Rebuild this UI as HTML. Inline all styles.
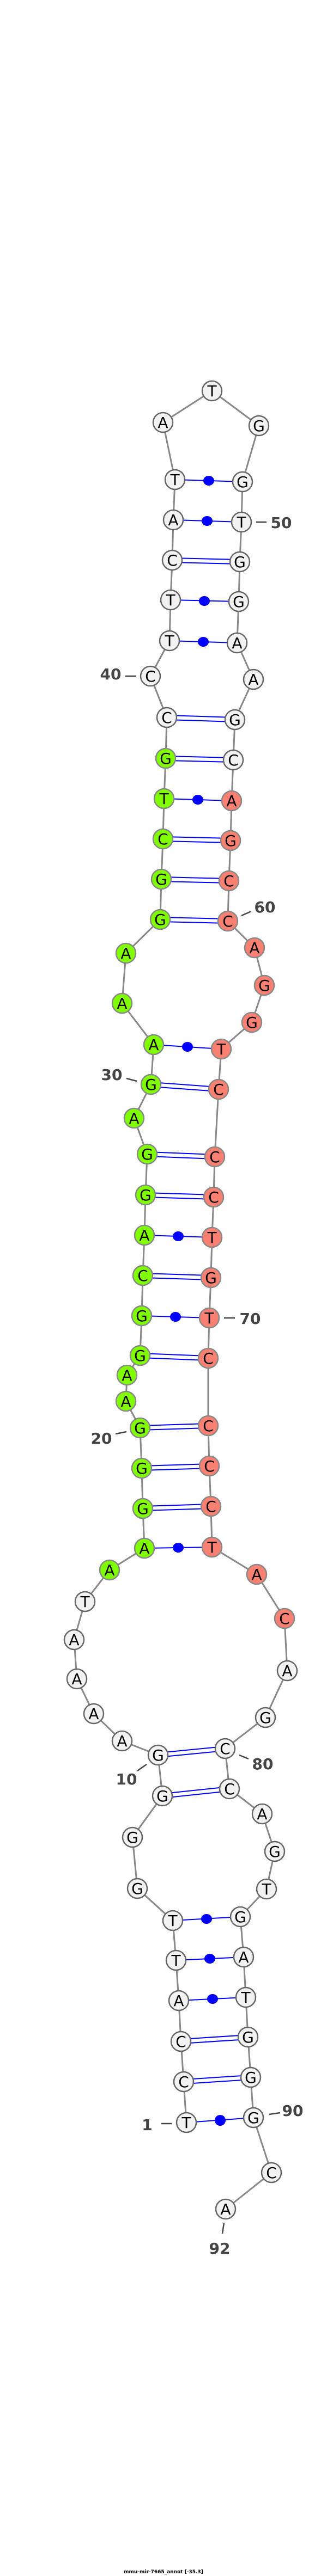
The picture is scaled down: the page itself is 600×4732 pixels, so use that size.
<!DOCTYPE html>
<html><head><meta charset="utf-8"><style>html,body{margin:0;padding:0;background:#fff}svg{display:block}</style></head><body>
<svg width="600" height="4732" viewBox="0 0 600 4732" xmlns="http://www.w3.org/2000/svg">
<polyline fill="none" stroke="#888" stroke-width="3" points="342,3899 337,3824 332,3750 328,3675 323,3601 317,3528 252,3469 243,3375 298,3299 290,3224 224,3198 172,3148 141,3084 136,3012 156,2942 201,2884 265,2844 262,2771 260,2697 257,2623 231,2574 233,2526 257,2490 260,2417 262,2343 265,2269 267,2195 270,2120 246,2054 277,1992 282,1919 224,1843 231,1751 294,1689 296,1615 299,1541 301,1467 304,1393 306,1318 276,1242 311,1177 313,1102 316,1029 318,955 321,881 299,776 389,718 475,782 445,885 443,959 440,1032 438,1105 435,1181 465,1248 431,1322 428,1396 425,1471 423,1544 420,1618 418,1692 467,1741 485,1810 462,1878 406,1927 401,2001 394,2125 392,2199 389,2273 387,2347 384,2421 382,2495 382,2619 384,2693 387,2767 389,2842 471,2892 522,2973 527,3069 487,3155 413,3212 421,3286 481,3332 504,3401 489,3470 441,3521 447,3595 451,3669 455,3742 460,3816 465,3890 498,3991 414,4058"/>
<g stroke="#00f" stroke-width="2">
<!-- single pairs -->
<line x1="342" y1="3899" x2="465" y2="3890"/>
<line x1="328" y1="3675" x2="451" y2="3669"/>
<line x1="323" y1="3601" x2="447" y2="3595"/>
<line x1="317" y1="3528" x2="441" y2="3521"/>
<line x1="265" y1="2844" x2="389" y2="2842"/>
<line x1="260" y1="2417" x2="384" y2="2421"/>
<line x1="265" y1="2269" x2="389" y2="2273"/>
<line x1="282" y1="1919" x2="406" y2="1927"/>
<line x1="301" y1="1467" x2="425" y2="1471"/>
<line x1="311" y1="1177" x2="435" y2="1181"/>
<line x1="313" y1="1102" x2="438" y2="1105"/>
<line x1="318" y1="955" x2="443" y2="959"/>
<line x1="321" y1="881" x2="445" y2="885"/>
<!-- double pairs -->
<line x1="337" y1="3820" x2="460" y2="3812"/><line x1="337" y1="3828" x2="460" y2="3820"/>
<line x1="332" y1="3746" x2="455" y2="3738"/><line x1="332" y1="3754" x2="455" y2="3746"/>
<line x1="298" y1="3295" x2="421" y2="3282"/><line x1="298" y1="3303" x2="421" y2="3290"/>
<line x1="290" y1="3220" x2="413" y2="3208"/><line x1="290" y1="3228" x2="413" y2="3216"/>
<line x1="262" y1="2767" x2="387" y2="2763"/><line x1="262" y1="2775" x2="387" y2="2771"/>
<line x1="260" y1="2693" x2="384" y2="2689"/><line x1="260" y1="2701" x2="384" y2="2697"/>
<line x1="257" y1="2619" x2="382" y2="2615"/><line x1="257" y1="2627" x2="382" y2="2623"/>
<line x1="257" y1="2486" x2="382" y2="2491"/><line x1="257" y1="2494" x2="382" y2="2499"/>
<line x1="262" y1="2339" x2="387" y2="2343"/><line x1="262" y1="2347" x2="387" y2="2351"/>
<line x1="267" y1="2191" x2="392" y2="2195"/><line x1="267" y1="2199" x2="392" y2="2203"/>
<line x1="270" y1="2116" x2="394" y2="2121"/><line x1="270" y1="2124" x2="394" y2="2129"/>
<line x1="277" y1="1988" x2="401" y2="1997"/><line x1="277" y1="1996" x2="401" y2="2005"/>
<line x1="294" y1="1685" x2="418" y2="1688"/><line x1="294" y1="1693" x2="418" y2="1696"/>
<line x1="296" y1="1611" x2="420" y2="1614"/><line x1="296" y1="1619" x2="420" y2="1622"/>
<line x1="299" y1="1537" x2="423" y2="1540"/><line x1="299" y1="1545" x2="423" y2="1548"/>
<line x1="304" y1="1389" x2="428" y2="1392"/><line x1="304" y1="1397" x2="428" y2="1400"/>
<line x1="306" y1="1314" x2="431" y2="1318"/><line x1="306" y1="1322" x2="431" y2="1326"/>
<line x1="316" y1="1025" x2="440" y2="1028"/><line x1="316" y1="1033" x2="440" y2="1036"/>
</g>
<g fill="#00f">
<ellipse cx="404" cy="3895" rx="10" ry="10"/>
<ellipse cx="390" cy="3672" rx="10" ry="9"/>
<ellipse cx="385" cy="3598" rx="10" ry="9"/>
<ellipse cx="379" cy="3525" rx="10" ry="9"/>
<ellipse cx="327" cy="2843" rx="10" ry="9"/>
<ellipse cx="322" cy="2419" rx="10" ry="9"/>
<ellipse cx="327" cy="2271" rx="10" ry="9"/>
<ellipse cx="344" cy="1923" rx="10" ry="9"/>
<ellipse cx="363" cy="1469" rx="10" ry="9"/>
<ellipse cx="373" cy="1179" rx="10" ry="9"/>
<ellipse cx="375" cy="1104" rx="10" ry="9"/>
<ellipse cx="380" cy="957" rx="10" ry="9"/>
<ellipse cx="383" cy="883" rx="10" ry="9"/>
</g>
<g stroke-width="2.5" font-family="'DejaVu Sans','Liberation Sans',sans-serif" font-size="28" text-anchor="middle">
<g fill="#f2f2f2" stroke="#666">
<circle cx="342" cy="3899" r="18"/><circle cx="337" cy="3824" r="18"/><circle cx="332" cy="3750" r="18"/><circle cx="328" cy="3675" r="18"/><circle cx="323" cy="3601" r="18"/><circle cx="317" cy="3528" r="18"/><circle cx="252" cy="3469" r="18"/><circle cx="243" cy="3375" r="18"/><circle cx="298" cy="3299" r="18"/><circle cx="290" cy="3224" r="18"/><circle cx="224" cy="3198" r="18"/><circle cx="172" cy="3148" r="18"/><circle cx="141" cy="3084" r="18"/><circle cx="136" cy="3012" r="18"/><circle cx="156" cy="2942" r="18"/>
<circle cx="306" cy="1318" r="18"/><circle cx="276" cy="1242" r="18"/><circle cx="311" cy="1177" r="18"/><circle cx="313" cy="1102" r="18"/><circle cx="316" cy="1029" r="18"/><circle cx="318" cy="955" r="18"/><circle cx="321" cy="881" r="18"/><circle cx="299" cy="776" r="18"/><circle cx="389" cy="718" r="18"/><circle cx="475" cy="782" r="18"/><circle cx="445" cy="885" r="18"/><circle cx="443" cy="959" r="18"/><circle cx="440" cy="1032" r="18"/><circle cx="438" cy="1105" r="18"/><circle cx="435" cy="1181" r="18"/><circle cx="465" cy="1248" r="18"/><circle cx="431" cy="1322" r="18"/><circle cx="428" cy="1396" r="18"/>
<circle cx="527" cy="3069" r="18"/><circle cx="487" cy="3155" r="18"/><circle cx="413" cy="3212" r="18"/><circle cx="421" cy="3286" r="18"/><circle cx="481" cy="3332" r="18"/><circle cx="504" cy="3401" r="18"/><circle cx="489" cy="3470" r="18"/><circle cx="441" cy="3521" r="18"/><circle cx="447" cy="3595" r="18"/><circle cx="451" cy="3669" r="18"/><circle cx="455" cy="3742" r="18"/><circle cx="460" cy="3816" r="18"/><circle cx="465" cy="3890" r="18"/><circle cx="498" cy="3991" r="18"/><circle cx="414" cy="4058" r="18"/>
</g>
<g fill="#7fff00" stroke="#888">
<circle cx="201" cy="2884" r="18"/><circle cx="265" cy="2844" r="18"/><circle cx="262" cy="2771" r="18"/><circle cx="260" cy="2697" r="18"/><circle cx="257" cy="2623" r="18"/><circle cx="231" cy="2574" r="18"/><circle cx="233" cy="2526" r="18"/><circle cx="257" cy="2490" r="18"/><circle cx="260" cy="2417" r="18"/><circle cx="262" cy="2343" r="18"/><circle cx="265" cy="2269" r="18"/><circle cx="267" cy="2195" r="18"/><circle cx="270" cy="2120" r="18"/><circle cx="246" cy="2054" r="18"/><circle cx="277" cy="1992" r="18"/><circle cx="282" cy="1919" r="18"/><circle cx="224" cy="1843" r="18"/><circle cx="231" cy="1751" r="18"/><circle cx="294" cy="1689" r="18"/><circle cx="296" cy="1615" r="18"/><circle cx="299" cy="1541" r="18"/><circle cx="301" cy="1467" r="18"/><circle cx="304" cy="1393" r="18"/>
</g>
<g fill="#fa8072" stroke="#888">
<circle cx="425" cy="1471" r="18"/><circle cx="423" cy="1544" r="18"/><circle cx="420" cy="1618" r="18"/><circle cx="418" cy="1692" r="18"/><circle cx="467" cy="1741" r="18"/><circle cx="485" cy="1810" r="18"/><circle cx="462" cy="1878" r="18"/><circle cx="406" cy="1927" r="18"/><circle cx="401" cy="2001" r="18"/><circle cx="394" cy="2125" r="18"/><circle cx="392" cy="2199" r="18"/><circle cx="389" cy="2273" r="18"/><circle cx="387" cy="2347" r="18"/><circle cx="384" cy="2421" r="18"/><circle cx="382" cy="2495" r="18"/><circle cx="382" cy="2619" r="18"/><circle cx="384" cy="2693" r="18"/><circle cx="387" cy="2767" r="18"/><circle cx="389" cy="2842" r="18"/><circle cx="471" cy="2892" r="18"/><circle cx="522" cy="2973" r="18"/>
</g>
<g fill="#000" stroke="none">
<text x="342" y="3909">T</text><text x="337" y="3834">C</text><text x="332" y="3760">C</text><text x="328" y="3685">A</text><text x="323" y="3611">T</text><text x="317" y="3538">T</text><text x="252" y="3479">G</text><text x="243" y="3385">G</text><text x="298" y="3309">G</text><text x="290" y="3234">G</text><text x="224" y="3208">A</text><text x="172" y="3158">A</text><text x="141" y="3094">A</text><text x="136" y="3022">A</text><text x="156" y="2952">T</text>
<text x="201" y="2894">A</text><text x="265" y="2854">A</text><text x="262" y="2781">G</text><text x="260" y="2707">G</text><text x="257" y="2633">G</text><text x="231" y="2584">A</text><text x="233" y="2536">A</text><text x="257" y="2500">G</text><text x="260" y="2427">G</text><text x="262" y="2353">C</text><text x="265" y="2279">A</text><text x="267" y="2205">G</text><text x="270" y="2130">G</text><text x="246" y="2064">A</text><text x="277" y="2002">G</text><text x="282" y="1929">A</text><text x="224" y="1853">A</text><text x="231" y="1761">A</text><text x="294" y="1699">G</text><text x="296" y="1625">G</text><text x="299" y="1551">C</text><text x="301" y="1477">T</text><text x="304" y="1403">G</text>
<text x="306" y="1328">C</text><text x="276" y="1252">C</text><text x="311" y="1187">T</text><text x="313" y="1112">T</text><text x="316" y="1039">C</text><text x="318" y="965">A</text><text x="321" y="891">T</text><text x="299" y="786">A</text><text x="389" y="728">T</text><text x="475" y="792">G</text><text x="445" y="895">G</text><text x="443" y="969">T</text><text x="440" y="1042">G</text><text x="438" y="1115">G</text><text x="435" y="1191">A</text><text x="465" y="1258">A</text><text x="431" y="1332">G</text><text x="428" y="1406">C</text>
<text x="425" y="1481">A</text><text x="423" y="1554">G</text><text x="420" y="1628">C</text><text x="418" y="1702">C</text><text x="467" y="1751">A</text><text x="485" y="1820">G</text><text x="462" y="1888">G</text><text x="406" y="1937">T</text><text x="401" y="2011">C</text><text x="394" y="2135">C</text><text x="392" y="2209">C</text><text x="389" y="2283">T</text><text x="387" y="2357">G</text><text x="384" y="2431">T</text><text x="382" y="2505">C</text><text x="382" y="2629">C</text><text x="384" y="2703">C</text><text x="387" y="2777">C</text><text x="389" y="2852">T</text><text x="471" y="2902">A</text><text x="522" y="2983">C</text>
<text x="527" y="3079">A</text><text x="487" y="3165">G</text><text x="413" y="3222">C</text><text x="421" y="3296">C</text><text x="481" y="3342">A</text><text x="504" y="3411">G</text><text x="489" y="3480">T</text><text x="441" y="3531">G</text><text x="447" y="3605">A</text><text x="451" y="3679">T</text><text x="455" y="3752">G</text><text x="460" y="3826">G</text><text x="465" y="3900">G</text><text x="498" y="4001">C</text><text x="414" y="4068">A</text>
</g>
</g>
<g stroke="#444" stroke-width="2.5">
<line x1="252" y1="3253" x2="269" y2="3241"/>
<line x1="212" y1="2634" x2="232" y2="2630"/>
<line x1="232" y1="1981" x2="251" y2="1986"/>
<line x1="230" y1="1242" x2="250" y2="1242"/>
<line x1="470" y1="959" x2="489" y2="959"/>
<line x1="443" y1="1682" x2="461" y2="1674"/>
<line x1="411" y1="2421" x2="431" y2="2421"/>
<line x1="439" y1="3224" x2="456" y2="3231"/>
<line x1="494" y1="3884" x2="514" y2="3881"/>
<line x1="296" y1="3901" x2="315" y2="3901"/>
<line x1="411" y1="4083" x2="408" y2="4103"/>
</g>
<g fill="#444" font-family="'DejaVu Sans','Liberation Sans',sans-serif" font-weight="bold" font-size="28" text-anchor="middle">
<text x="232" y="3278">10</text>
<text x="186" y="2652">20</text>
<text x="205" y="1984">30</text>
<text x="203" y="1248">40</text>
<text x="516" y="970">50</text>
<text x="486" y="1676">60</text>
<text x="459" y="2432">70</text>
<text x="482" y="3250">80</text>
<text x="537" y="3887">90</text>
<text x="270" y="3913">1</text>
<text x="403" y="4140">92</text>
</g>
<text x="300" y="4727" font-family="'DejaVu Sans','Liberation Sans',sans-serif" font-weight="bold" font-size="9" text-anchor="middle" fill="#000">mmu-mir-7665_annot [-35.3]</text>
</svg>
</body></html>
